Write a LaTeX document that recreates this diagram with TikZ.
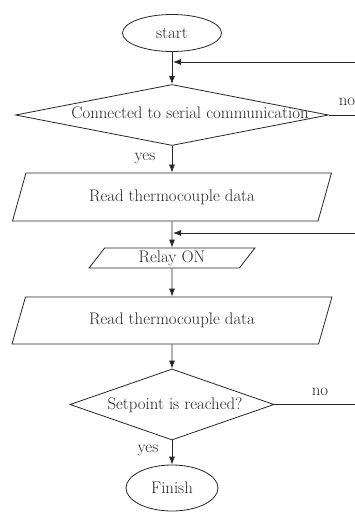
\documentclass[tikz,border=0pt]{standalone}
\usepackage{tikz}
\usetikzlibrary{shapes.geometric,arrows.meta}

\begin{document}
\begin{tikzpicture}[x=1pt,y=-1pt]
\tikzstyle{every node}+=[inner sep=0pt,font=\fontsize{16.8}{20}\selectfont,text=black!85]
\tikzstyle{term}=[draw=black!85,line width=0.8pt,ellipse]
\tikzstyle{dec}=[draw=black!85,line width=0.8pt,diamond]
\tikzstyle{io}=[draw=black!85,line width=0.8pt,trapezium,trapezium stretches=true,
  trapezium left angle=63,trapezium right angle=117]
\tikzstyle{flow}=[draw=black!85,line width=0.8pt,-{Latex[length=8pt,width=6pt]}]
\tikzstyle{wire}=[draw=black!85,line width=0.8pt]
\useasboundingbox (0,0) rectangle (354,512);
% shapes
\node[term,minimum width=99pt,minimum height=37pt] (start) at (172,33) {start};
\node[dec,minimum width=313pt,minimum height=61pt] (conn) at (172,115) {};
\node (conntxt) at (190,113) {Connected to serial communication};
\node[io,minimum width=319pt,minimum height=48pt] (read1) at (172,197) {Read thermocouple data};
\node[io,minimum width=167pt,minimum height=20pt] (relay) at (172,258) {Relay ON};
\node[io,minimum width=320pt,minimum height=47pt] (read2) at (172,320.5) {Read thermocouple data};
\node[dec,minimum width=204pt,minimum height=71pt] (check) at (172,404.5) {};
\node (checktxt) at (175,405) {Setpoint is reached?};
\node[term,minimum width=92pt,minimum height=46pt] (finish) at (172,488) {Finish};
% labels
\node (no1) at (347,102) {no};
\node (yes1) at (145,158) {yes};
\node (no2) at (320,392) {no};
\node (yes2) at (148,450) {yes};
% loop ends
\coordinate (in1) at (173,62);
\coordinate (back1) at (360,62);
\coordinate (in2) at (173,233);
\coordinate (back2) at (360,233);
\coordinate (out1) at (360,115);
\coordinate (out2) at (360,404.5);
% connectors
\draw[flow] (start) -- (conn);
\draw[flow] (back1) -- (in1);
\draw[wire] (conn.east) -- (out1);
\draw[flow] (conn) -- (read1);
\draw[flow] (read1) -- (relay);
\draw[flow] (back2) -- (in2);
\draw[flow] (relay) -- (read2);
\draw[flow] (read2) -- (check);
\draw[wire] (check.east) -- (out2);
\draw[flow] (check) -- (finish);
\end{tikzpicture}
\end{document}
